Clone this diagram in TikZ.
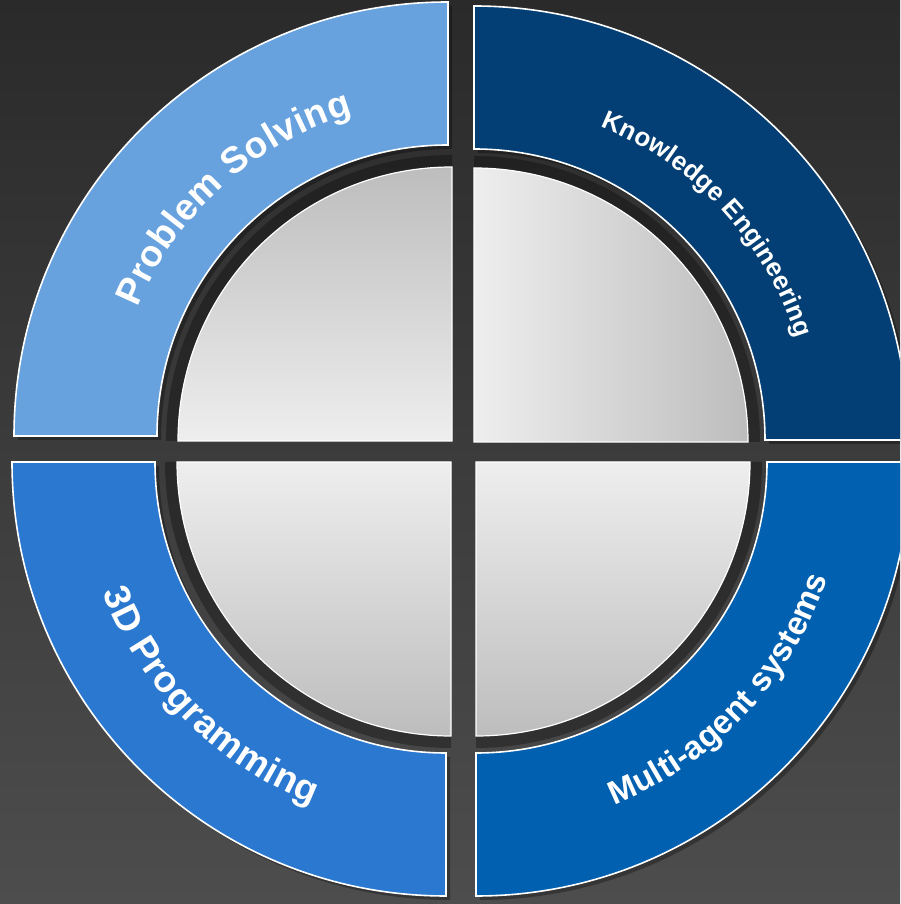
\documentclass[tikz,border=0pt]{standalone}
\usepackage{fontspec}
\setmainfont{Liberation Sans}
\usetikzlibrary{decorations.text}
\definecolor{bgtop}{HTML}{2A2A2A}
\definecolor{bgbot}{HTML}{4D4D4D}
\definecolor{psblue}{HTML}{67A2DF}
\definecolor{keblue}{HTML}{033F74}
\definecolor{tdblue}{HTML}{2A78D0}
\definecolor{mablue}{HTML}{0260B1}
\definecolor{gdark}{HTML}{BDBDBD}
\definecolor{glight}{HTML}{EEEEEE}
\tikzset{
  seg/.style={draw=white, line width=1.6pt},
  quad/.style={draw=white, line width=1.2pt},
  drop/.style={fill=black, opacity=0.3},
  lbl/.style={decorate, decoration={text along path, text align={fit to path}, text color=white}}
}
\newcommand\lblfont[1]{\bfseries\fontsize{#1}{#1}\selectfont}

\begin{document}
\begin{tikzpicture}

  \newcommand\RO{434pt}
  \newcommand\RI{291pt}
  \newcommand\RQ{274pt}
  \newcommand\RS{286pt}

  %% <background>
  \useasboundingbox (0,0) rectangle (900pt,904pt);
  \clip (0,0) rectangle (900pt,904pt);
  \shade[top color=bgtop, bottom color=bgbot] (0,0) rectangle (900pt,904pt);
  % </background>

  %% top left
  \begin{scope}[shift={(448pt,468pt)}]
    \fill[drop] (180:\RO) ++(4pt,-4pt) arc[start angle=180, end angle=90, radius=\RO] -- ++(0,-143pt) arc[start angle=90, end angle=180, radius=\RI] -- cycle;
    \draw[seg, fill=psblue] (180:\RO) arc[start angle=180, end angle=90, radius=\RO] -- (90:\RI) arc[start angle=90, end angle=180, radius=\RI] -- cycle;
    \path[lbl, decoration={text={|\lblfont{37}|Problem Solving}}] (157.5:336pt) arc[start angle=157.5, end angle=106.5, radius=336pt];
  \end{scope}

  %% top right
  \begin{scope}[shift={(474pt,464pt)}]
    \fill[drop] (90:\RO) ++(4pt,-4pt) arc[start angle=90, end angle=0, radius=\RO] -- ++(-143pt,0) arc[start angle=0, end angle=90, radius=\RI] -- cycle;
    \draw[seg, fill=keblue] (90:\RO) arc[start angle=90, end angle=0, radius=\RO] -- (0:\RI) arc[start angle=0, end angle=90, radius=\RI] -- cycle;
    \path[lbl, decoration={text={|\lblfont{26}|Knowledge Engineering}}] (68:338pt) arc[start angle=68, end angle=17.5, radius=338pt];
  \end{scope}

  %% bottom left
  \begin{scope}[shift={(446pt,442pt)}]
    \fill[drop] (270:\RO) ++(4pt,-4pt) arc[start angle=270, end angle=180, radius=\RO] -- ++(143pt,0) arc[start angle=180, end angle=270, radius=\RI] -- cycle;
    \draw[seg, fill=tdblue] (270:\RO) arc[start angle=270, end angle=180, radius=\RO] -- (180:\RI) arc[start angle=180, end angle=270, radius=\RI] -- cycle;
    \path[lbl, decoration={text={|\lblfont{37}|3D Programming}}] (200.8:367pt) arc[start angle=200.8, end angle=248.7, radius=367pt];
  \end{scope}

  %% bottom right
  \begin{scope}[shift={(476pt,442pt)}]
    \fill[drop] (0:\RO) ++(4pt,-4pt) arc[start angle=0, end angle=-90, radius=\RO] -- ++(0,143pt) arc[start angle=-90, end angle=0, radius=\RI] -- cycle;
    \draw[seg, fill=mablue] (0:\RO) arc[start angle=0, end angle=-90, radius=\RO] -- (-90:\RI) arc[start angle=-90, end angle=0, radius=\RI] -- cycle;
    \path[lbl, decoration={text={|\lblfont{33}|Multi-agent systems}}] (-68:370pt) arc[start angle=-68, end angle=-18.3, radius=370pt];
  \end{scope}

  %% <discs>
  \begin{scope}[shift={(452pt,463pt)}]
    \fill[drop] (0,0) -- (180:\RS) arc[start angle=180, end angle=90, radius=\RS] -- cycle;
    \draw[quad, top color=gdark, bottom color=glight] (0,0) -- (180:\RQ) arc[start angle=180, end angle=90, radius=\RQ] -- cycle;
  \end{scope}
  \begin{scope}[shift={(474pt,462pt)}]
    \fill[drop] (0,0) -- (90:\RS) arc[start angle=90, end angle=0, radius=\RS] -- cycle;
    \draw[quad, left color=glight, right color=gdark] (0,0) -- (90:\RQ) arc[start angle=90, end angle=0, radius=\RQ] -- cycle;
  \end{scope}
  \begin{scope}[shift={(451pt,442pt)}]
    \fill[drop] (0,0) -- (270:\RS) arc[start angle=270, end angle=180, radius=\RS] -- cycle;
    \draw[quad, top color=glight, bottom color=gdark] (0,0) -- (270:\RQ) arc[start angle=270, end angle=180, radius=\RQ] -- cycle;
  \end{scope}
  \begin{scope}[shift={(476pt,442pt)}]
    \fill[drop] (0,0) -- (0:\RS) arc[start angle=0, end angle=-90, radius=\RS] -- cycle;
    \draw[quad, top color=glight, bottom color=gdark] (0,0) -- (0:\RQ) arc[start angle=0, end angle=-90, radius=\RQ] -- cycle;
  \end{scope}
  % </discs>

\end{tikzpicture}
\end{document}
